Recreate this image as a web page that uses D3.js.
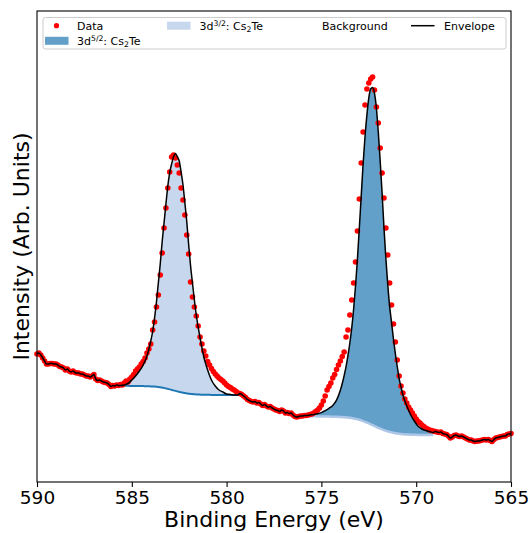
<!DOCTYPE html>
<html>
<head>
<meta charset="utf-8">
<script src="https://cdn.jsdelivr.net/npm/d3@7"></script>
<style>
  body { margin: 0; background: #fff; }
  svg { font-family: "DejaVu Sans", sans-serif; }
</style>
</head>
<body>
<div class="container"></div>
<script>
// XPS Te 3d spectrum, intensity in arbitrary units
const energyStart = 590
const energyStep = 0.1
const counts = [
  1280,1290,1270,1240,1210,1180,1180,1185,1185,1180,
  1180,1170,1155,1150,1140,1120,1130,1110,1100,1110,
  1095,1090,1090,1080,1080,1070,1060,1060,1050,1060,
  1075,1030,1015,1020,1010,1000,995,990,975,955,
  965,960,970,965,975,970,990,1010,1000,1030,
  1050,1075,1110,1130,1150,1180,1205,1240,1290,1330,
  1380,1520,1600,1750,1870,2070,2290,2540,2740,2940,
  3100,3250,3270,3240,3170,3090,2940,2820,2670,2470,
  2280,2000,1850,1750,1660,1560,1450,1380,1310,1260,
  1205,1170,1135,1105,1080,1060,1040,1025,1010,990,
  970,955,945,930,920,905,890,885,875,860,
  845,825,815,805,800,805,790,795,780,765,
  775,760,750,755,740,730,720,715,705,720,
  710,690,695,685,690,670,655,650,655,660,
  660,665,665,670,675,680,690,705,720,740,
  770,810,860,920,955,990,1040,1075,1125,1170,
  1210,1255,1300,1450,1520,1670,1820,1990,2200,2510,
  2830,3190,3500,3770,3930,3990,4030,4050,3920,3750,
  3590,3340,3090,2840,2540,2270,1990,1770,1580,1400,
  1220,1060,960,890,830,790,750,720,690,660,
  630,605,590,570,555,540,530,520,515,510,
  505,500,495,500,485,480,475,460,440,450,
  465,470,460,455,460,450,440,430,420,420,
  410,405,410,410,415,420,425,420,425,415,
  405,425,440,445,450,455,460,460,475,480,
  485
]

// 3d3/2 fit region
const energy32 = [585.6,585.4,585.2,585.0,584.8,584.6,584.4,584.2,584.0,
  583.9,583.8,583.7,583.6,583.5,583.4,583.3,583.2,583.1,583.0,
  582.9,582.8,582.7,582.6,582.5,582.4,582.3,582.2,582.1,582.0,
  581.9,581.8,581.7,581.6,581.5,581.4,581.3,581.2,581.1,581.0,
  580.8,580.6,580.4,580.2,580.0,579.8,579.6,579.4]
const background32 = [965,963,962,960,960,960,959,958,956,
  955,954,952,950,947,944,940,936,931,926,
  921,916,911,906,901,897,893,889,886,883,
  881,879,877,876,875,874,873,873,872,872,
  871,870,870,870,870,870,870,870]
const peak32 = [0,7,23,60,100,150,211,302,454,
  550,686,848,1040,1233,1456,1650,1844,2029,2168,
  2259,2334,2374,2347,2309,2203,2077,1901,1714,1487,
  1279,1111,943,794,675,566,467,377,308,248,
  149,90,50,30,10,5,0,0]

// 3d5/2 fit region
const energy52 = [575.8,575.6,575.4,575.2,575.0,574.8,574.6,574.4,574.2,574.0,
  573.9,573.8,573.7,573.6,573.5,573.4,573.3,573.2,573.1,573.0,
  572.9,572.8,572.7,572.6,572.5,572.4,572.3,572.2,572.1,572.0,
  571.9,571.8,571.7,571.6,571.5,571.4,571.3,571.2,571.1,571.0,
  570.9,570.8,570.7,570.6,570.5,
  570.3,570.1,569.9,569.7,569.5,569.3,569.1]
const background52 = [658,657,657,656,656,655,654,653,652,650,
  649,648,646,644,642,639,636,632,627,622,
  616,609,602,594,586,577,568,559,550,542,
  534,526,519,512,506,501,496,492,488,485,
  482,480,478,476,475,
  473,472,471,470,470,470,470]
const peak52 = [6,13,19,27,38,58,83,113,167,267,
  336,416,507,620,748,901,1094,1328,1603,1918,
  2244,2571,2851,3077,3256,3353,3376,3328,3190,2957,
  2678,2367,2024,1724,1468,1253,1099,938,795,670,
  551,469,392,337,288,
  202,138,86,60,45,35,25]

const xTicks = [590, 585, 580, 575, 570, 565]

const w = 530
const h = 533
const plotLeft = 37, plotRight = 511, plotTop = 11, plotBottom = 482

const svg = d3.select(".container")
  .append("svg")
  .attr("width", w)
  .attr("height", h)

const xScale = d3.scaleLinear().domain([590, 565]).range([plotLeft, plotRight])
const yScale = d3.scaleLinear().domain([0, 4710]).range([plotBottom, plotTop])

const dataset = counts.map((c, i) => ({ e: +(energyStart - i * energyStep).toFixed(1), v: c }))

const region = (es, bg, pk) => es.map((e, i) => ({ e: e, b: bg[i], v: bg[i] + pk[i] }))
const fit32 = region(energy32, background32, peak32)
const fit52 = region(energy52, background52, peak52)

const envelope = [].concat(
  dataset.filter(d => d.e > energy32[0]),
  fit32,
  dataset.filter(d => d.e < energy32[energy32.length - 1] && d.e > energy52[0]),
  fit52,
  dataset.filter(d => d.e < energy52[energy52.length - 1])
)

const area = d3.area()
  .x(d => xScale(d.e))
  .y0(d => yScale(d.b))
  .y1(d => yScale(d.v))
  .curve(d3.curveMonotoneX)

const bgLine = d3.line()
  .x(d => xScale(d.e))
  .y(d => yScale(d.b))
  .curve(d3.curveMonotoneX)

const envLine = d3.line()
  .x(d => xScale(d.e))
  .y(d => yScale(d.v))
  .curve(d3.curveMonotoneX)

// component fills
svg.append("path").datum(fit32).attr("d", area).attr("fill", "#c6d7ee")
svg.append("path").datum(fit52).attr("d", area).attr("fill", "#62a0ca")

// backgrounds
svg.append("path").datum(fit32).attr("d", bgLine)
  .attr("fill", "none").attr("stroke", "#1f77b4").attr("stroke-width", 2)
svg.append("path").datum(fit52).attr("d", bgLine)
  .attr("fill", "none").attr("stroke", "#aec7e8").attr("stroke-width", 2.5)

// data points
svg.selectAll("circle.dot")
  .data(dataset)
  .enter()
  .append("circle")
  .attr("class", "dot")
  .attr("cx", d => xScale(d.e))
  .attr("cy", d => yScale(d.v))
  .attr("r", 2.8)
  .attr("fill", "red")

// envelope
svg.append("path").datum(envelope).attr("d", envLine)
  .attr("fill", "none").attr("stroke", "black").attr("stroke-width", 1.5)

// axes
const xAxis = d3.axisBottom(xScale).tickValues(xTicks).tickFormat(d3.format("d")).tickSize(5).tickPadding(4)
const gx = svg.append("g")
  .attr("transform", "translate(0," + plotBottom + ")")
  .call(xAxis)
gx.select(".domain").remove()
gx.selectAll("line").attr("stroke", "black").attr("stroke-width", 1.1)
gx.selectAll("text").attr("font-size", 18.5).attr("fill", "black")
  .attr("font-family", "DejaVu Sans")

svg.append("rect")
  .attr("x", plotLeft).attr("y", plotTop)
  .attr("width", plotRight - plotLeft).attr("height", plotBottom - plotTop)
  .attr("fill", "none").attr("stroke", "black").attr("stroke-width", 1.1)

svg.append("text")
  .attr("x", (plotLeft + plotRight) / 2).attr("y", 527)
  .attr("text-anchor", "middle")
  .attr("font-size", 22)
  .text("Binding Energy (eV)")

svg.append("text")
  .attr("transform", "translate(29," + (plotTop + plotBottom) / 2 + ") rotate(-90)")
  .attr("text-anchor", "middle")
  .attr("font-size", 22)
  .text("Intensity (Arb. Units)")

// legend
const legend = svg.append("g").attr("font-size", 11)
legend.append("rect")
  .attr("x", 43).attr("y", 17.5).attr("width", 463).attr("height", 31.5)
  .attr("rx", 2.5).attr("fill", "white").attr("fill-opacity", 0.8)
  .attr("stroke", "#cccccc").attr("stroke-width", 1)

legend.append("circle").attr("cx", 56.5).attr("cy", 25.7).attr("r", 2.6).attr("fill", "red")
legend.append("text").attr("x", 77).attr("y", 29.8).text("Data")

legend.append("rect").attr("x", 167).attr("y", 21.7).attr("width", 23.5).attr("height", 8).attr("fill", "#c6d7ee")
const t32 = legend.append("text").attr("x", 199.5).attr("y", 29.8)
t32.append("tspan").text("3d")
t32.append("tspan").attr("font-size", 7.7).attr("dy", -4).text("3/2")
t32.append("tspan").attr("dy", 4).text(": Cs")
t32.append("tspan").attr("font-size", 7.7).attr("dy", 2).text("2")
t32.append("tspan").attr("dy", -2).text("Te")

legend.append("text").attr("x", 322).attr("y", 29.8).text("Background")

legend.append("line").attr("x1", 411).attr("x2", 434.5).attr("y1", 25.7).attr("y2", 25.7)
  .attr("stroke", "black").attr("stroke-width", 1.5)
legend.append("text").attr("x", 444).attr("y", 29.8).text("Envelope")

legend.append("rect").attr("x", 45).attr("y", 36.8).attr("width", 23.5).attr("height", 8).attr("fill", "#62a0ca")
const t52 = legend.append("text").attr("x", 77).attr("y", 45)
t52.append("tspan").text("3d")
t52.append("tspan").attr("font-size", 7.7).attr("dy", -4).text("5/2")
t52.append("tspan").attr("dy", 4).text(": Cs")
t52.append("tspan").attr("font-size", 7.7).attr("dy", 2).text("2")
t52.append("tspan").attr("dy", -2).text("Te")
</script>
</body>
</html>
